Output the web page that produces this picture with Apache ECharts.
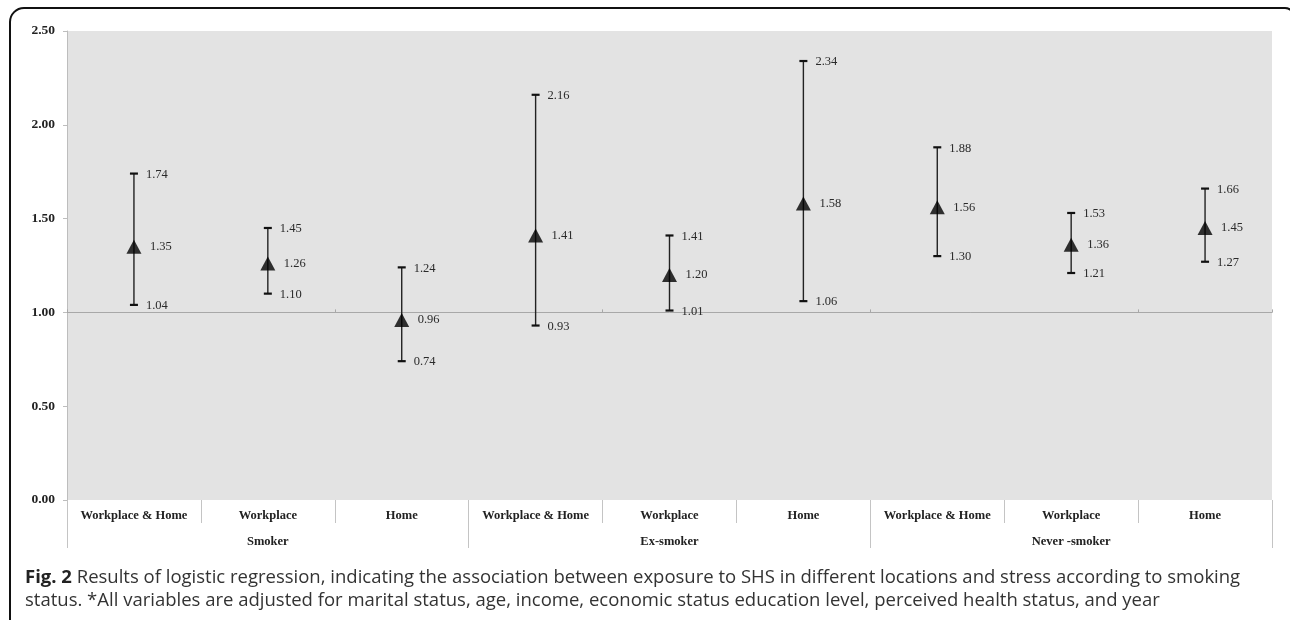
<!DOCTYPE html>
<html>
<head>
<meta charset="utf-8">
<script src="https://cdn.jsdelivr.net/npm/echarts@6/dist/echarts.min.js"></script>
<style>
html,body{margin:0;padding:0;background:#fff;}
#chart{width:1290px;height:620px;}
</style>
</head>
<body>
<div id="chart"></div>
<script>
const categories = ['Workplace & Home','Workplace','Home','Workplace & Home','Workplace','Home','Workplace & Home','Workplace','Home'];
const groups = ['Smoker','Ex-smoker','Never -smoker'];
const oddsRatio = [1.35,1.26,0.96,1.41,1.20,1.58,1.56,1.36,1.45];
const lowerCI = [1.04,1.10,0.74,0.93,1.01,1.06,1.30,1.21,1.27];
const upperCI = [1.74,1.45,1.24,2.16,1.41,2.34,1.88,1.53,1.66];
const yTicks = [0,0.5,1,1.5,2,2.5];

const chart = echarts.init(document.getElementById('chart'));
const serif = '"Liberation Serif","Times New Roman",serif';
const barData = categories.map((c,i)=>[i,lowerCI[i],upperCI[i],oddsRatio[i]]);

chart.setOption({
  animation:false,
  backgroundColor:'#fff',
  grid:{left:67,right:18,top:31,bottom:120,show:true,backgroundColor:'#e3e3e3',borderWidth:0},
  xAxis:[
    {type:'category',data:categories,position:'bottom',boundaryGap:true,
     axisLine:{show:false},
     axisTick:{show:true,length:23,lineStyle:{color:'#c4c4c4',width:1}},
     axisLabel:{margin:9,fontFamily:serif,fontWeight:'bold',fontSize:12.5,color:'#222',interval:0},
     splitLine:{show:false}},
    {type:'category',data:categories,boundaryGap:true,
     axisLine:{show:true,onZero:true,onZeroAxisIndex:1,lineStyle:{color:'#a8a8a8',width:1}},
     axisTick:{show:true,length:3,lineStyle:{color:'#a8a8a8'}},
     axisLabel:{show:false},splitLine:{show:false}},
    {type:'category',data:groups,position:'bottom',boundaryGap:true,
     axisLine:{show:false},
     axisTick:{show:true,length:48,lineStyle:{color:'#c4c4c4',width:1}},
     axisLabel:{margin:35,fontFamily:serif,fontWeight:'bold',fontSize:12.5,color:'#222',interval:0},
     splitLine:{show:false}}
  ],
  yAxis:[
    {type:'value',min:0,max:2.5,interval:0.5,
     axisLine:{show:true,lineStyle:{color:'#bdbdbd',width:1}},
     axisTick:{show:true,length:4,lineStyle:{color:'#bdbdbd'}},
     axisLabel:{margin:12,fontFamily:serif,fontWeight:'bold',fontSize:13.5,color:'#222',
       formatter:v=>v.toFixed(2)},
     splitLine:{show:false}},
    {type:'value',min:-1,max:1.5,show:false,splitLine:{show:false}}
  ],
  series:[
    {type:'custom',xAxisIndex:0,yAxisIndex:0,data:barData,z:3,
     renderItem:function(params,api){
       const i=api.value(0);
       const lo=api.coord([i,api.value(1)]);
       const hi=api.coord([i,api.value(2)]);
       const md=api.coord([i,api.value(3)]);
       const x=lo[0];
       const cap=4;
       const style={stroke:'#222',lineWidth:1.4};
       const capStyle={stroke:'#111',lineWidth:2.2};
       const tf={fontFamily:serif,fontSize:12.5,fill:'#2a2a2a',align:'left',verticalAlign:'middle'};
       return {type:'group',children:[
         {type:'line',shape:{x1:x,y1:lo[1],x2:x,y2:hi[1]},style:style},
         {type:'line',shape:{x1:x-cap,y1:lo[1],x2:x+cap,y2:lo[1]},style:capStyle},
         {type:'line',shape:{x1:x-cap,y1:hi[1],x2:x+cap,y2:hi[1]},style:capStyle},
         {type:'text',x:x+12,y:hi[1]+1,style:Object.assign({text:api.value(2).toFixed(2)},tf)},
         {type:'text',x:x+12,y:lo[1]+1,style:Object.assign({text:api.value(1).toFixed(2)},tf)},
         {type:'text',x:x+16,y:md[1],style:Object.assign({text:api.value(3).toFixed(2)},tf)}
       ]};
     }},
    {type:'scatter',xAxisIndex:0,yAxisIndex:0,data:oddsRatio.map((v,i)=>[i,v]),z:4,
     symbol:'triangle',symbolSize:[15,14],itemStyle:{color:'#000'},label:{show:false}}
  ],
  graphic:[
    {type:'rect',shape:{x:10,y:8,width:1284,height:700,r:[14,9,0,0]},
     style:{fill:'none',stroke:'#111',lineWidth:2},silent:true},
    {type:'text',left:25,top:566,style:{
      text:'{b|Fig. 2} Results of logistic regression, indicating the association between exposure to SHS in different locations and stress according to smoking\nstatus. *All variables are adjusted for marital status, age, income, economic status education level, perceived health status, and year',
      fontFamily:'"Open Sans",sans-serif',fontSize:18.5,lineHeight:23,fill:'#333',
      rich:{b:{fontFamily:'"Open Sans",sans-serif',fontSize:18.5,fontWeight:'bold',fill:'#222',lineHeight:23}}
    }}
  ]
});
</script>
</body>
</html>
